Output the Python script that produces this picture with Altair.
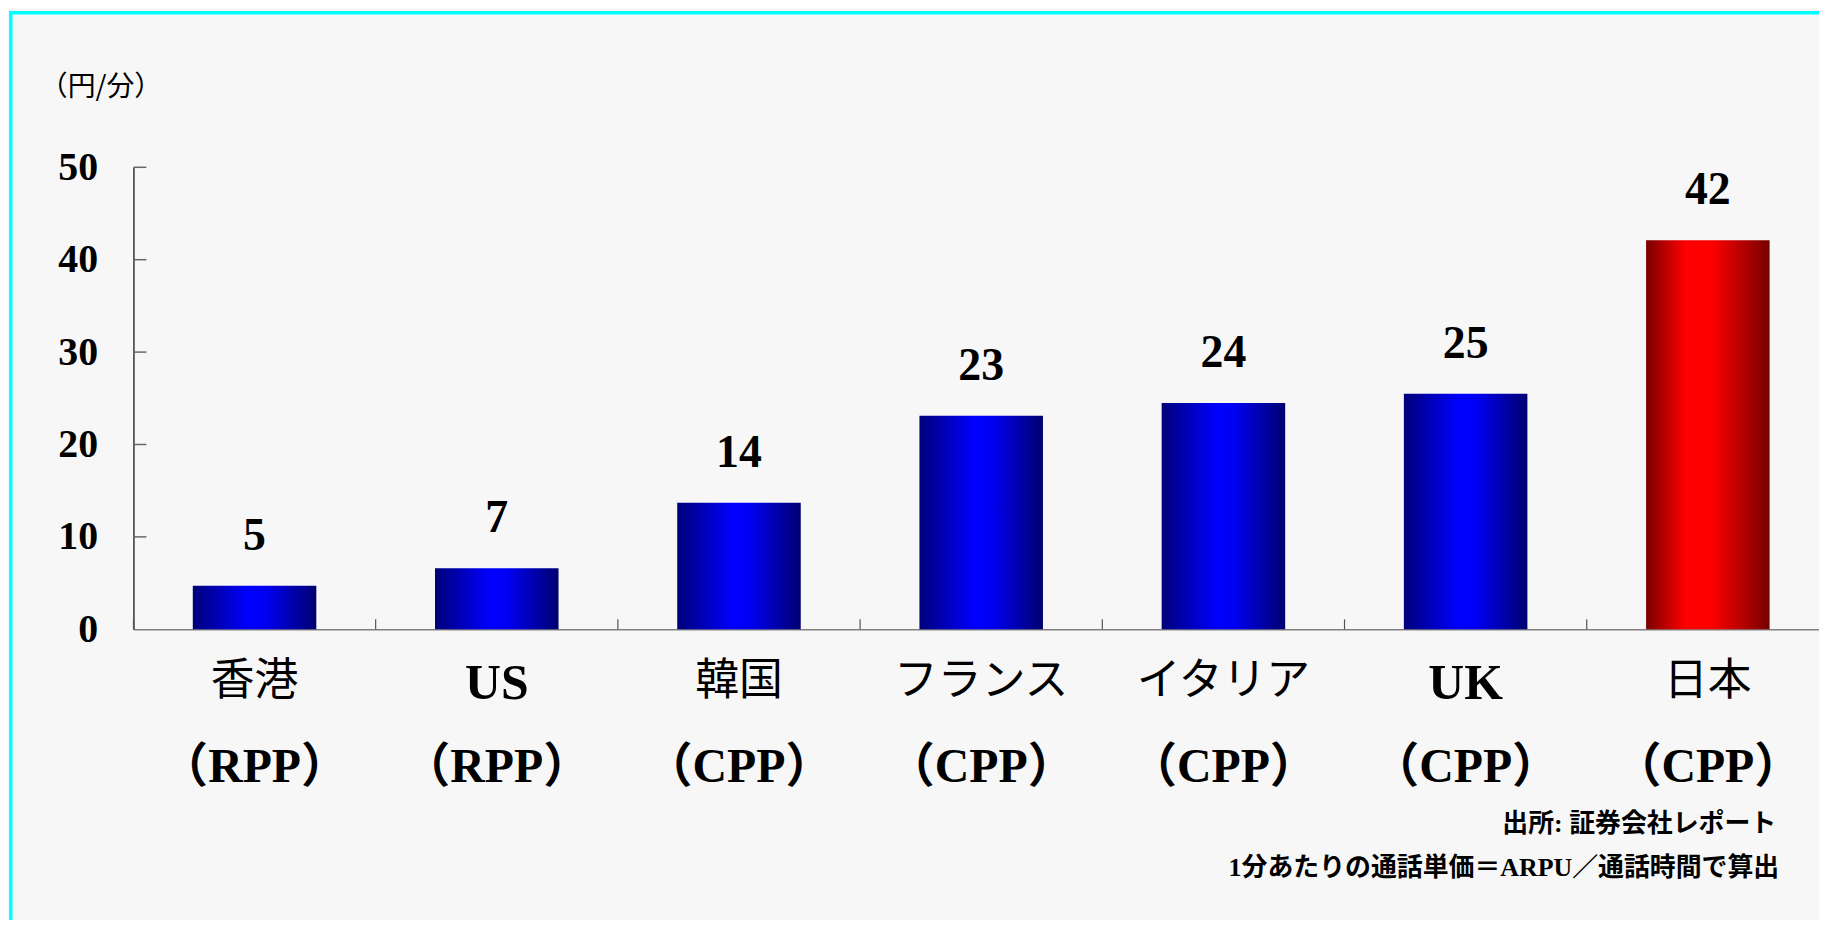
import altair as alt
import pandas as pd

# ---- data ----
names = ["香港", "US", "韓国", "フランス", "イタリア", "UK", "日本"]
billing = ["（RPP）", "（RPP）", "（CPP）", "（CPP）", "（CPP）", "（CPP）", "（CPP）"]
values = [4.7, 6.6, 13.7, 23.1, 24.5, 25.5, 42.1]
value_labels = ["5", "7", "14", "23", "24", "25", "42"]
y_ticks = [0, 10, 20, 30, 40, 50]
unit_title = "（円/分）"
footnote_source = "出所:  証券会社レポート"
footnote_calc = "1分あたりの通話単価＝ARPU／通話時間で算出"

df = pd.DataFrame({"name": names, "billing": billing, "value": values, "label": value_labels})
tick_df = pd.DataFrame({"tick": y_ticks[1:]})

SERIF = "Liberation Serif, Noto Sans CJK JP"
CJK = "Noto Sans CJK JP, Liberation Serif"

y_axis = alt.Axis(values=y_ticks, ticks=False, grid=False, labelPadding=36,
                  labelFont="Liberation Serif", labelFontWeight="bold", labelFontSize=40,
                  labelColor="black", domainColor="#333333", domainWidth=1.5, title=None)

x_enc = alt.X("name:N", sort=names, title=None,
              scale=alt.Scale(range=[0, 1703], paddingInner=0, paddingOuter=0))
y_enc = alt.Y("value:Q", title=None, scale=alt.Scale(domain=[0, 50], nice=False), axis=y_axis)

blue = alt.LinearGradient(gradient="linear", x1=0, x2=1, y1=0, y2=0, stops=[
    alt.GradientStop(color="#00007a", offset=0),
    alt.GradientStop(color="#0000ff", offset=0.45),
    alt.GradientStop(color="#0000f4", offset=0.58),
    alt.GradientStop(color="#000070", offset=1)])
red = alt.LinearGradient(gradient="linear", x1=0, x2=1, y1=0, y2=0, stops=[
    alt.GradientStop(color="#7a0000", offset=0),
    alt.GradientStop(color="#ff0000", offset=0.32),
    alt.GradientStop(color="#ff0000", offset=0.52),
    alt.GradientStop(color="#760000", offset=1)])

base = alt.Chart(df)

bars_blue = base.transform_filter("datum.name != '日本'").mark_bar(
    color=blue, width=alt.RelativeBandSize(0.51)).encode(x=x_enc, y=y_enc)
bars_red = base.transform_filter("datum.name == '日本'").mark_bar(
    color=red, width=alt.RelativeBandSize(0.51)).encode(x=x_enc, y=y_enc)

value_text = base.mark_text(font=SERIF, fontWeight="bold", fontSize=46, color="black",
                            baseline="alphabetic", dy=-36).encode(
    x=x_enc, y=y_enc, text="label:N")

name_latin = base.transform_filter("test(/^[A-Z]+$/, datum.name)").mark_text(
    font=SERIF, fontWeight="bold", fontSize=50, color="black", baseline="middle").encode(
    x=x_enc, y=alt.value(519), text="name:N")
name_cjk = base.transform_filter("!test(/^[A-Z]+$/, datum.name)").mark_text(
    font=CJK, fontWeight="normal", fontSize=44, color="black", baseline="middle").encode(
    x=x_enc, y=alt.value(517), text="name:N")
billing_text = base.mark_text(font=SERIF, fontWeight="bold", fontSize=48, color="black",
                              baseline="middle").encode(
    x=x_enc, y=alt.value(603), text="billing:N")

y_tick_marks = alt.Chart(tick_df).mark_rule(color="#666666", strokeWidth=1.5).encode(
    y=alt.Y("tick:Q", title=None, axis=y_axis), x=alt.value(0), x2=alt.value(13))
x_tick_marks = base.mark_rule(color="#555555", strokeWidth=1.2).encode(
    x=alt.X("name:N", sort=names, title=None, bandPosition=0),
    y=alt.value(454), y2=alt.value(464))

unit_text = alt.Chart(pd.DataFrame({"t": [unit_title]})).mark_text(
    font=CJK, fontSize=28, color="black", align="left", baseline="middle").encode(
    x=alt.value(-94), y=alt.value(-80), text="t:N")
foot1 = alt.Chart(pd.DataFrame({"t": [footnote_source]})).mark_text(
    font=SERIF, fontWeight="bold", fontSize=26, color="black", align="right", baseline="middle").encode(
    x=alt.value(1650), y=alt.value(660), text="t:N")
foot2 = alt.Chart(pd.DataFrame({"t": [footnote_calc]})).mark_text(
    font=SERIF, fontWeight="bold", fontSize=26, color="black", align="right", baseline="middle").encode(
    x=alt.value(1653), y=alt.value(704), text="t:N")

frame_df = pd.DataFrame({"a": [0]})
frame_left = alt.Chart(frame_df).mark_rule(color="#00ffff", strokeWidth=3.5).encode(
    x=alt.value(-123.2), y=alt.value(-157), y2=alt.value(800))
frame_top = alt.Chart(frame_df).mark_rule(color="#00ffff", strokeWidth=3.5).encode(
    y=alt.value(-155.2), x=alt.value(-125), x2=alt.value(1720))

chart = alt.layer(
    bars_blue, bars_red, value_text, name_latin, name_cjk, billing_text,
    y_tick_marks, x_tick_marks, unit_text, foot1, foot2, frame_left, frame_top
).properties(
    width=1690, height=464,
    autosize=alt.AutoSizeParams(type="none"),
    padding={"left": 126, "top": 158, "right": 3, "bottom": 290},
    background="#f7f7f7",
).configure_view(stroke=None).configure_axisX(
    labels=False, ticks=False, grid=False, domainColor="#808080", domainWidth=1.5
)

chart.save("out.html", embed_options={"renderer": "svg", "actions": False})
